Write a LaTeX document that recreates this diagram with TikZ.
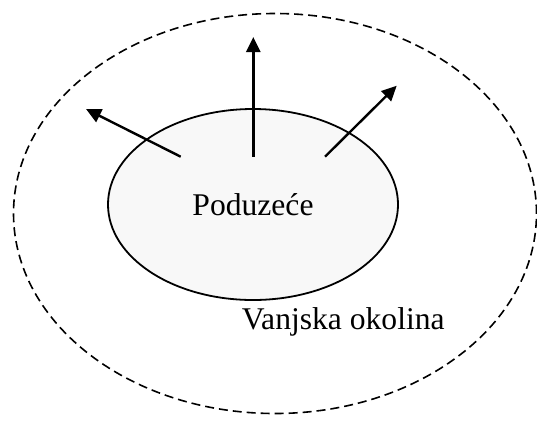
\documentclass[tikz,border=0pt]{standalone}
\usepackage{fontspec}
\setmainfont{Liberation Serif}
\usetikzlibrary{shapes.geometric,arrows.meta}
\definecolor{firmfill}{HTML}{F8F8F8}
\tikzset{
  outarrow/.style={black,line width=2.4pt,-{Triangle[length=15pt,width=14pt]}}
}

\begin{document}
\begin{tikzpicture}[x=1pt,y=-1pt]
      \useasboundingbox (0,0) rectangle (537,421);
      \node[ellipse,draw,dash pattern=on 9pt off 5pt,line width=1.6pt,
            minimum width=523pt,minimum height=400pt,inner sep=0pt] (env) at (275,213.5) {};
      \node[ellipse,draw,fill=firmfill,line width=1.8pt,minimum width=290pt,
            minimum height=191pt,inner sep=0pt,font=\fontsize{31.6}{38}\selectfont] (firm) at (253,204.5) {Poduzeće};
      \node[anchor=base west,inner sep=0pt,font=\fontsize{31.6}{38}\selectfont] (envlabel) at (241.7,329) {Vanjska okolina};
      \coordinate (L0) at (180.7,156.7);
      \coordinate (L1) at (86,109);
      \coordinate (M0) at (253.3,156.7);
      \coordinate (M1) at (253.3,37);
      \coordinate (R0) at (325,156.7);
      \coordinate (R1) at (396.7,85.7);
      \draw[outarrow] (L0)--(L1);
      \draw[outarrow] (M0)--(M1);
      \draw[outarrow] (R0)--(R1);
    \end{tikzpicture}
\end{document}
